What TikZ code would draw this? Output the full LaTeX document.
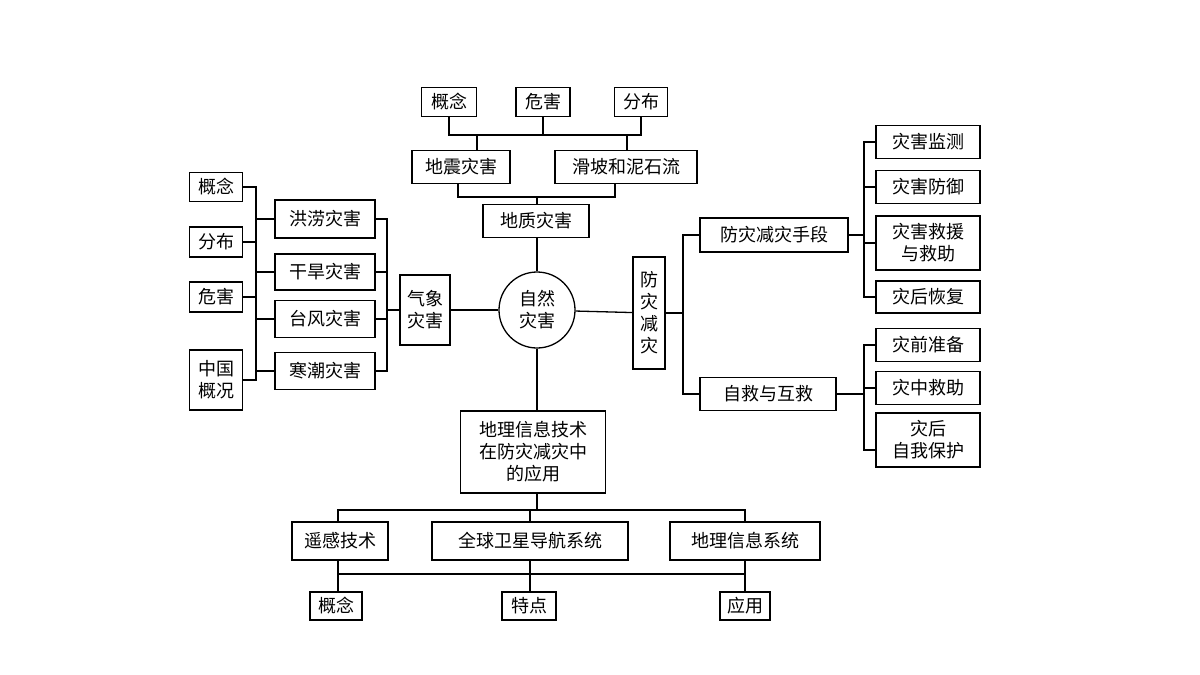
\documentclass[tikz,border=0pt]{standalone}
\usepackage{fontspec}
\setmainfont{Noto Sans CJK SC}
\begin{document}
\begin{tikzpicture}[x=1pt,y=-1pt,line width=1.3pt,
 box/.style={draw,line width=1.3pt,inner sep=0pt,align=center,font=\fontsize{18}{22}\selectfont},
 B/.style 2 args={box,minimum width=#1,minimum height=#2}]
\useasboundingbox (0,0) rectangle (1200,675);
% top
\node[B={55}{29}] (t1) at (449,102) {概念};
\node[B={54}{29}] (t2) at (543,102) {危害};
\node[B={53}{29}] (t3) at (641,102) {分布};
\node[B={98}{33}] (dz) at (461,167) {地震灾害};
\node[B={142}{33}] (hp) at (626,167) {滑坡和泥石流};
\node[B={106}{33}] (dzh) at (536,221) {地质灾害};
\node[circle,draw,line width=1.3pt,minimum size=76pt,inner sep=0pt,font=\fontsize{18}{22}\selectfont,align=center] (c) at (537,310) {自然\\灾害};
\coordinate (b1) at (0,135);
\coordinate (b2) at (0,197);
\draw (t1.south) -- (t1.south |- b1) -- (t3.south |- b1) -- (t3.south);
\draw (t2.south) -- (t2.south |- b1);
\draw (dz.north -| 477,0) -- (477,135);
\draw (hp.north -| 627,0) -- (627,135);
\draw (dz.south -| 458,0) -- (458,197) -- (615,197) -- (hp.south -| 615,0);
\draw (dzh.north -| 537,0) -- (537,197);
\draw (dzh.south -| 537,0) -- (c.north);
% left
\node[B={50}{70}] (qx) at (425,310) {气象\\灾害};
\node[B={100}{38}] (l1) at (325,219) {洪涝灾害};
\node[B={100}{36}] (l2) at (325,272) {干旱灾害};
\node[B={100}{37}] (l3) at (325,319) {台风灾害};
\node[B={100}{37}] (l4) at (325,371) {寒潮灾害};
\node[B={53}{29}] (m1) at (216,187) {概念};
\node[B={53}{30}] (m2) at (216,242) {分布};
\node[B={53}{30}] (m3) at (216,297) {危害};
\node[B={53}{60}] (m4) at (216,380) {中国\\概况};
\draw (qx) -- (c);
\draw (l1.east) -- (387,219) -- (387,371) -- (l4.east);
\draw (l2.east) -- (387,272);
\draw (l3.east) -- (387,319);
\draw (387,310) -- (qx.west);
\draw (m1.east) -- (256,187) -- (256,380) -- (m4.east);
\draw (m2.east) -- (256,242);
\draw (m3.east) -- (256,297);
\draw (256,219) -- (l1.west);
\draw (256,272) -- (l2.west);
\draw (256,319) -- (l3.west);
\draw (256,371) -- (l4.west);
% right
\node[B={32}{112}] (fz) at (649,313) {防\\灾\\减\\灾};
\node[B={148}{34}] (sd) at (774,235) {防灾减灾手段};
\node[B={136}{33}] (zj) at (768,394) {自救与互救};
\node[B={104}{33}] (r1) at (928,142) {灾害监测};
\node[B={104}{33}] (r2) at (928,187) {灾害防御};
\node[B={104}{54}] (r3) at (928,243) {灾害救援\\与救助};
\node[B={104}{32}] (r4) at (928,297) {灾后恢复};
\node[B={104}{33}] (s1) at (928,345) {灾前准备};
\node[B={104}{33}] (s2) at (928,388) {灾中救助};
\node[B={104}{54}] (s3) at (928,440) {灾后\\自我保护};
\draw (c) -- (fz);
\draw (fz.east) -- (683,313);
\draw (sd.west) -- (683,235) -- (683,394) -- (zj.west);
\draw (r1.west) -- (864,142) -- (864,297) -- (r4.west);
\draw (r2.west) -- (864,187);
\draw (r3.west) -- (864,243);
\draw (sd.east) -- (864,235);
\draw (s1.west) -- (864,345) -- (864,450) -- (876,450);
\draw (s2.west) -- (864,388);
\draw (zj.east) -- (864,394);
% bottom
\node[B={145}{82}] (gis) at (533,452) {地理信息技术\\在防灾减灾中\\的应用};
\node[B={96}{38}] (y1) at (340,541) {遥感技术};
\node[B={196}{38}] (y2) at (530,541) {全球卫星导航系统};
\node[B={150}{38}] (y3) at (745,541) {地理信息系统};
\node[B={52}{28}] (z1) at (336,606) {概念};
\node[B={54}{28}] (z2) at (529,606) {特点};
\node[B={50}{28}] (z3) at (745,606) {应用};
\draw (c.south) -- (gis.north -| 537,0);
\draw (gis.south -| 537,0) -- (537,510);
\draw (y1.north -| 338,0) -- (338,510) -- (745,510) -- (y3.north);
\draw (y2.north) -- (530,510);
\draw (y1.south -| 338,0) -- (z1.north -| 338,0);
\draw (y2.south) -- (z2.north -| 530,0);
\draw (y3.south) -- (z3.north);
\draw (338,574) -- (745,574);
\end{tikzpicture}
\end{document}
